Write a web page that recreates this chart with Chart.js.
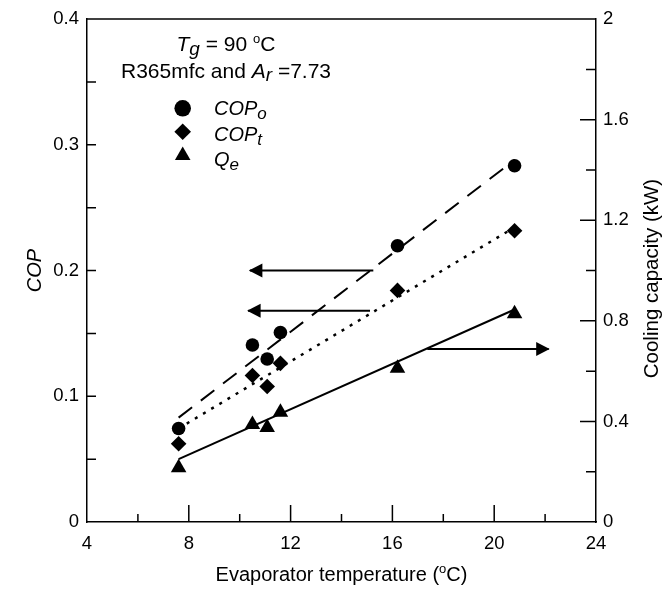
<!DOCTYPE html>
<html><head><meta charset="utf-8">
<script src="https://cdn.jsdelivr.net/npm/chart.js@4.4.0/dist/chart.umd.min.js"></script>
<style>html,body{margin:0;padding:0;background:#fff;}#wrap{width:666px;height:589px;}</style>
</head><body><div id="wrap"><canvas id="c" width="666" height="589"></canvas></div>
<script>
// ---- data ----
const temps = [7.6, 10.5, 11.08, 11.6, 16.2, 20.8];
const copO  = [0.0744, 0.1408, 0.1297, 0.1507, 0.2197, 0.2834];
const copT  = [0.0622, 0.1165, 0.1078, 0.1262, 0.1842, 0.2316];
const qe    = [0.216, 0.388, 0.376, 0.436, 0.611, 0.828];
// fitted trend lines (end points)
const fitX    = [7.6, 20.8];
const fitCopO = [0.083, 0.288];
const fitCopT = [0.0744, 0.2344];
const fitQe   = [0.25, 0.845];
// axis-indicator arrows (tail, tip)
const arrowUpperX = [15.25, 10.40], arrowUpperY = [0.200, 0.200];
const arrowLowerX = [15.12, 10.33], arrowLowerY = [0.168, 0.168];
const arrowRightX = [17.37, 22.14], arrowRightY = [0.688, 0.688];
// tick labels
const xTickLabels = ['4', '8', '12', '16', '20', '24'];
const yLeftTickLabels = ['0', '0.1', '0.2', '0.3', '0.4'];
const yRightTickLabels = ['0', '0.4', '0.8', '1.2', '1.6', '2'];

const FONT = "'Liberation Sans', Arial, Helvetica, sans-serif";
const pts = (xs, ys) => xs.map((x, i) => ({x: x, y: ys[i]}));
const findLabel = (list, v) => { const m = list.find(l => Math.abs(parseFloat(l) - v) < 1e-9); return m === undefined ? '' : m; };

function drawRich(ctx, segs, x, y, align) {
  let total = 0;
  segs.forEach(s => { ctx.font = (s.style || '') + ' ' + s.size + 'px ' + FONT; s.w = ctx.measureText(s.t).width; total += s.w; });
  let cx = align === 'center' ? x - total / 2 : x;
  segs.forEach(s => { ctx.font = (s.style || '') + ' ' + s.size + 'px ' + FONT; ctx.fillText(s.t, cx, y + (s.dy || 0)); cx += s.w; });
}
function marker(ctx, style, x, y, r) {
  ctx.beginPath();
  if (style === 'circle') ctx.arc(x, y, r, 0, Math.PI * 2);
  else if (style === 'rectRot') { ctx.moveTo(x - r, y); ctx.lineTo(x, y - r); ctx.lineTo(x + r, y); ctx.lineTo(x, y + r); ctx.closePath(); }
  else { const h = Math.sqrt(3) / 2 * r; ctx.moveTo(x, y - r); ctx.lineTo(x + h, y + r / 2); ctx.lineTo(x - h, y + r / 2); ctx.closePath(); }
  ctx.fill();
}

const decorPlugin = {
  id: 'decor',
  afterDatasetsDraw(chart) {
    const ctx = chart.ctx, a = chart.chartArea;
    ctx.save();
    ctx.fillStyle = '#000'; ctx.strokeStyle = '#000';
    // arrowheads
    chart.data.datasets.forEach((ds, i) => {
      if (!ds.isArrow) return;
      const d = chart.getDatasetMeta(i).data;
      const t0 = d[0], t1 = d[1];
      const dx = t1.x - t0.x, dy = t1.y - t0.y, L = Math.hypot(dx, dy);
      const ux = dx / L, uy = dy / L, hl = 13.5, hw = 7;
      const tx = t1.x + ux, ty = t1.y + uy;
      ctx.beginPath();
      ctx.moveTo(tx, ty);
      ctx.lineTo(tx - ux * hl - uy * hw, ty - uy * hl + ux * hw);
      ctx.lineTo(tx - ux * hl + uy * hw, ty - uy * hl - ux * hw);
      ctx.closePath(); ctx.fill();
    });
    // frame top line
    ctx.lineWidth = 1.5;
    ctx.beginPath(); ctx.moveTo(a.left, a.top); ctx.lineTo(a.right, a.top); ctx.stroke();
    // inner tick marks
    const sx = chart.scales.x, sy = chart.scales.y, sy2 = chart.scales.y2;
    ctx.beginPath();
    sx.ticks.forEach(t => {
      const p = sx.getPixelForValue(t.value);
      if (p <= a.left + 1 || p >= a.right - 1) return;
      const len = findLabel(xTickLabels, t.value) ? 17 : 8;
      ctx.moveTo(p, a.bottom); ctx.lineTo(p, a.bottom - len);
    });
    sy.ticks.forEach(t => {
      const p = sy.getPixelForValue(t.value);
      if (p <= a.top + 1 || p >= a.bottom - 1) return;
      ctx.moveTo(a.left, p); ctx.lineTo(a.left + 9, p);
    });
    sy2.ticks.forEach(t => {
      const p = sy2.getPixelForValue(t.value);
      if (p <= a.top + 1 || p >= a.bottom - 1) return;
      const len = findLabel(yRightTickLabels, t.value) ? 16 : 10;
      ctx.moveTo(a.right, p); ctx.lineTo(a.right - len, p);
    });
    ctx.stroke();
    // annotation text
    ctx.textAlign = 'left'; ctx.textBaseline = 'alphabetic';
    drawRich(ctx, [
      {t: 'T', size: 21, style: 'italic'}, {t: 'g', size: 19, style: 'italic', dy: 4},
      {t: ' = 90 ', size: 21}, {t: 'o', size: 13, dy: -8}, {t: 'C', size: 21}
    ], 226, 50.7, 'center');
    drawRich(ctx, [
      {t: 'R365mfc and ', size: 21}, {t: 'A', size: 21, style: 'italic'},
      {t: 'r', size: 19, style: 'italic', dy: 3}, {t: ' =7.73', size: 21}
    ], 226, 78.3, 'center');
    // legend
    marker(ctx, 'circle', 182.7, 108.3, 8.3);
    marker(ctx, 'rectRot', 182.7, 131.7, 8.3);
    marker(ctx, 'triangle', 182.7, 155.5, 9);
    drawRich(ctx, [{t: 'COP', size: 20, style: 'italic'}, {t: 'o', size: 17, style: 'italic', dy: 4}], 214, 115, 'left');
    drawRich(ctx, [{t: 'COP', size: 20, style: 'italic'}, {t: 't', size: 17, style: 'italic', dy: 4}], 214, 140.7, 'left');
    drawRich(ctx, [{t: 'Q', size: 20, style: 'italic'}, {t: 'e', size: 17, style: 'italic', dy: 4}], 214, 165.5, 'left');
    // x axis title
    drawRich(ctx, [
      {t: 'Evaporator temperature (', size: 20}, {t: 'o', size: 13, dy: -8}, {t: 'C)', size: 20}
    ], (a.left + a.right) / 2, 581, 'center');
    // right axis title (reads bottom-to-top)
    ctx.save();
    ctx.translate(652, (a.top + a.bottom) / 2 + 8);
    ctx.rotate(-Math.PI / 2);
    ctx.textAlign = 'center'; ctx.textBaseline = 'middle';
    ctx.font = '20.5px ' + FONT;
    ctx.fillText('Cooling capacity (kW)', 0, 0);
    ctx.restore();
    ctx.restore();
  }
};

const common = {borderColor: '#000', backgroundColor: '#000'};
const chart = new Chart(document.getElementById('c').getContext('2d'), {
  type: 'scatter',
  data: {
    datasets: [
      Object.assign({label: 'COPo', data: pts(temps, copO), yAxisID: 'y', pointStyle: 'circle', pointRadius: 6.8, borderWidth: 0, showLine: false}, common),
      Object.assign({label: 'COPt', data: pts(temps, copT), yAxisID: 'y', pointStyle: 'rectRot', pointRadius: 7.8, borderWidth: 0, showLine: false}, common),
      Object.assign({label: 'Qe', data: pts(temps, qe), yAxisID: 'y2', pointStyle: 'triangle', pointRadius: 9, borderWidth: 0, showLine: false}, common),
      Object.assign({type: 'line', label: 'fit COPo', data: pts(fitX, fitCopO), yAxisID: 'y', borderWidth: 2, borderDash: [17, 11], pointRadius: 0, fill: false}, common),
      Object.assign({type: 'line', label: 'fit COPt', data: pts(fitX, fitCopT), yAxisID: 'y', borderWidth: 2.5, borderDash: [3, 6.5], pointRadius: 0, fill: false}, common),
      Object.assign({type: 'line', label: 'fit Qe', data: pts(fitX, fitQe), yAxisID: 'y2', borderWidth: 2, pointRadius: 0, fill: false}, common),
      Object.assign({type: 'line', label: 'arrow1', isArrow: true, data: pts(arrowUpperX, arrowUpperY), yAxisID: 'y', borderWidth: 2, pointRadius: 0, fill: false}, common),
      Object.assign({type: 'line', label: 'arrow2', isArrow: true, data: pts(arrowLowerX, arrowLowerY), yAxisID: 'y', borderWidth: 2, pointRadius: 0, fill: false}, common),
      Object.assign({type: 'line', label: 'arrow3', isArrow: true, data: pts(arrowRightX, arrowRightY), yAxisID: 'y2', borderWidth: 2, pointRadius: 0, fill: false}, common)
    ]
  },
  options: {
    responsive: false, animation: false, devicePixelRatio: 1,
    layout: {padding: {top: 15, left: 0, right: 0, bottom: 0}},
    plugins: {legend: {display: false}, tooltip: {enabled: false}},
    scales: {
      x: {
        type: 'linear', position: 'bottom', min: 4, max: 24,
        ticks: {stepSize: 2, autoSkip: false, maxRotation: 0, padding: 11, color: '#000',
          font: {family: FONT, size: 18.5}, callback: v => findLabel(xTickLabels, v)},
        grid: {display: false, drawTicks: false, tickLength: 0},
        border: {display: true, color: '#000', width: 1.5},
        afterFit: s => { s.height = 67; }
      },
      y: {
        type: 'linear', position: 'left', min: 0, max: 0.4,
        ticks: {stepSize: 0.05, autoSkip: false, padding: 8, color: '#000',
          font: {family: FONT, size: 18.5}, callback: v => findLabel(yLeftTickLabels, v)},
        grid: {display: false, drawTicks: false, tickLength: 0},
        border: {display: true, color: '#000', width: 1.5},
        title: {display: true, text: 'COP', color: '#000', font: {family: FONT, size: 20, style: 'italic'}, padding: {top: 23, bottom: 0}},
        afterFit: s => { s.width = 87; }
      },
      y2: {
        type: 'linear', position: 'right', min: 0, max: 2,
        ticks: {stepSize: 0.2, autoSkip: false, padding: 7, color: '#000',
          font: {family: FONT, size: 18.5}, callback: v => findLabel(yRightTickLabels, v)},
        grid: {display: false, drawTicks: false, tickLength: 0},
        border: {display: true, color: '#000', width: 1.5},
        afterFit: s => { s.width = 70; }
      }
    }
  },
  plugins: [decorPlugin]
});
</script>
</body></html>
